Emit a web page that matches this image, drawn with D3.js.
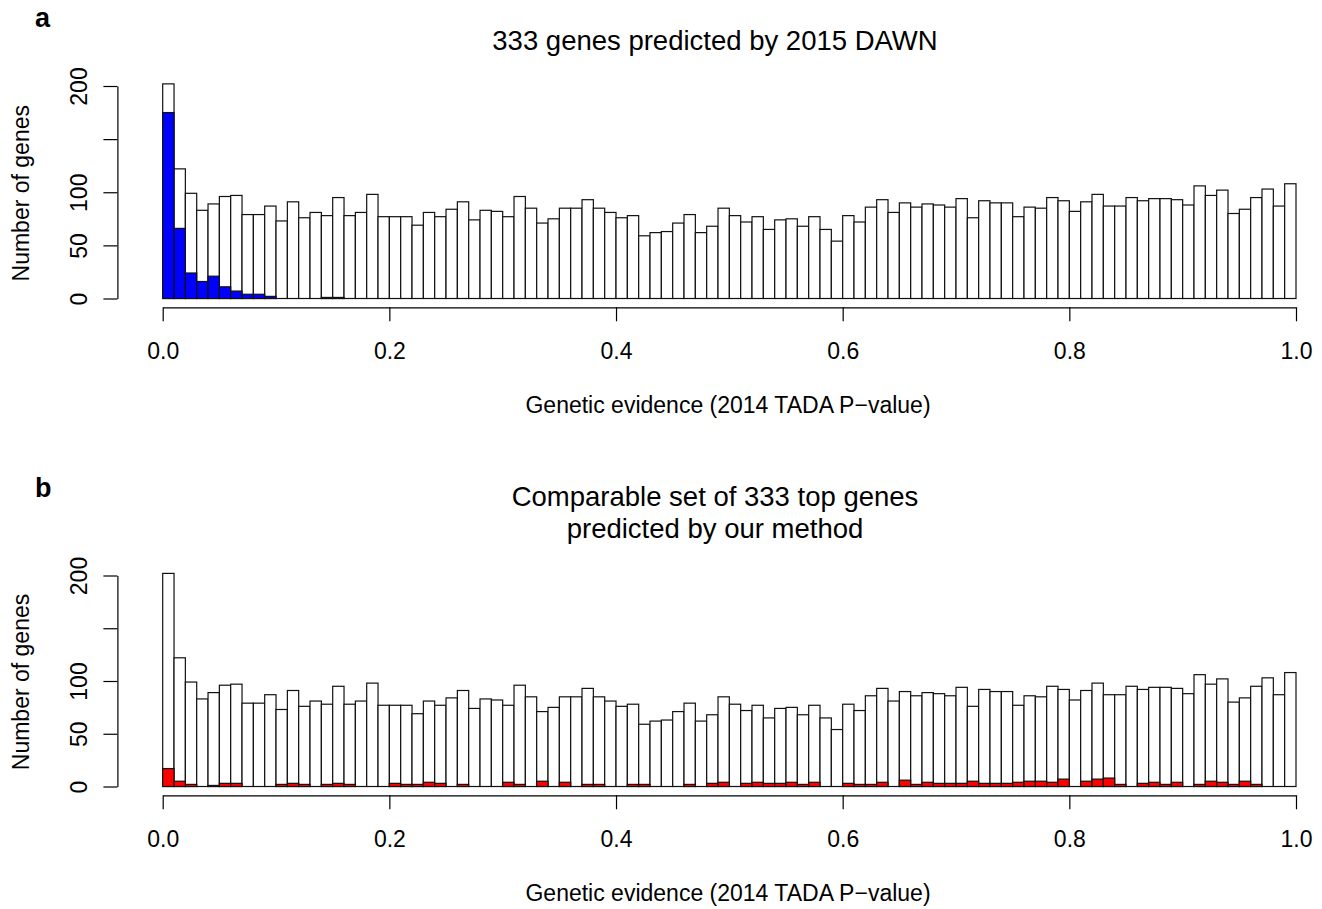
<!DOCTYPE html>
<html>
<head>
<meta charset="utf-8">
<script src="https://cdn.jsdelivr.net/npm/d3@7"></script>
<style>
  body { margin: 0; background: #fff; }
  text { font-family: "Liberation Sans", Arial, Helvetica, sans-serif; fill: #000; }
</style>
</head>
<body>
<script>
// histogram counts, 100 bins of width 0.01 on [0, 1]
var allGenes = [202, 122, 99, 83, 89, 96, 97, 79, 79, 87,
  73, 91, 76, 81, 78, 95, 78, 81, 98, 77,
  77, 77, 69, 81, 77, 84, 91, 74, 83, 82,
  77, 96, 85, 71, 75, 85, 85, 93, 85, 81,
  76, 78, 59, 62, 63, 71, 79, 62, 68, 85,
  78, 72, 77, 65, 74, 75, 68, 77, 65, 54,
  78, 72, 86, 93, 81, 90, 86, 89, 88, 86,
  94, 76, 92, 90, 90, 77, 86, 85, 95, 92,
  82, 91, 98, 87, 87, 95, 92, 94, 94, 93,
  88, 106, 97, 102, 80, 84, 95, 103, 87, 108];

var dawnGenes = [175, 66, 24, 16, 21, 11, 7, 4, 4, 2,
  0, 0, 0, 0, 1, 1, 0, 0, 0, 0,
  0, 0, 0, 0, 0, 0, 0, 0, 0, 0,
  0, 0, 0, 0, 0, 0, 0, 0, 0, 0,
  0, 0, 0, 0, 0, 0, 0, 0, 0, 0,
  0, 0, 0, 0, 0, 0, 0, 0, 0, 0,
  0, 0, 0, 0, 0, 0, 0, 0, 0, 0,
  0, 0, 0, 0, 0, 0, 0, 0, 0, 0,
  0, 0, 0, 0, 0, 0, 0, 0, 0, 0,
  0, 0, 0, 0, 0, 0, 0, 0, 0, 0];

var ourGenes = [17, 5, 2, 0, 1, 3, 3, 0, 0, 0,
  2, 3, 2, 0, 2, 3, 2, 0, 0, 0,
  3, 2, 2, 4, 3, 0, 2, 0, 0, 0,
  4, 2, 0, 5, 0, 4, 0, 2, 2, 0,
  0, 2, 2, 0, 0, 0, 2, 0, 3, 4,
  0, 3, 4, 3, 3, 4, 2, 4, 0, 0,
  3, 2, 2, 4, 0, 6, 2, 4, 3, 3,
  3, 5, 3, 3, 3, 4, 5, 5, 4, 7,
  0, 5, 7, 8, 2, 0, 3, 4, 2, 4,
  0, 2, 5, 4, 2, 5, 2, 0, 0, 0];

var binWidth = 0.01;
var xTicks = [0, 0.2, 0.4, 0.6, 0.8, 1.0];
var yTicks = [0, 50, 100, 150, 200];
var yTickLabels = ["0", "50", "100", "", "200"];

var panels = [
  { letter: "a", letterY: 26.5, title: ["333 genes predicted by 2015 DAWN"], sub: dawnGenes, color: "#0000ff", base: 298.5, top: 86 },
  { letter: "b", letterY: 496.5, title: ["Comparable set of 333 top genes", "predicted by our method"], sub: ourGenes, color: "#ff0000", base: 786.5, top: 575.5 }
];

var svg = d3.select("body").append("svg")
  .attr("width", 1322)
  .attr("height", 909);

var x = d3.scaleLinear().domain([0, 1]).range([162.7, 1296]);
var axisX = 117.4;

panels.forEach(function(p) {
  var y = d3.scaleLinear().domain([0, 200]).range([p.base, p.top]);
  var g = svg.append("g");

  //白色柱子（全部基因）
  g.selectAll("rect.all").data(allGenes).enter().append("rect")
    .attr("class", "all")
    .attr("x", function(d, i) { return x(i * binWidth); })
    .attr("y", function(d) { return y(d); })
    .attr("width", x(binWidth) - x(0))
    .attr("height", function(d) { return y(0) - y(d); })
    .attr("fill", "#fff")
    .attr("stroke", "#111")
    .attr("stroke-width", 1.2);

  //叠加的彩色柱子
  g.selectAll("rect.sub").data(p.sub).enter().append("rect")
    .attr("class", "sub")
    .attr("x", function(d, i) { return x(i * binWidth); })
    .attr("y", function(d) { return y(d); })
    .attr("width", x(binWidth) - x(0))
    .attr("height", function(d) { return y(0) - y(d); })
    .attr("fill", p.color)
    .attr("stroke", "#111")
    .attr("stroke-width", 1.2);

  //x轴
  var xa = g.append("g")
    .attr("transform", "translate(0," + (p.base + 8.8) + ")")
    .call(d3.axisBottom(x).tickValues(xTicks).tickFormat(d3.format(".1f"))
      .tickSize(14).tickSizeOuter(0).tickPadding(21));
  xa.selectAll("text").attr("font-size", 23);

  //y轴
  var ya = g.append("g")
    .attr("transform", "translate(" + axisX + ",0)")
    .call(d3.axisLeft(y).tickValues(yTicks)
      .tickFormat(function(d, i) { return yTickLabels[i]; })
      .tickSize(14).tickSizeOuter(0));
  ya.selectAll("text")
    .attr("font-size", 23)
    .attr("transform", "rotate(-90)")
    .attr("x", 0)
    .attr("y", -30)
    .attr("dy", 0)
    .attr("text-anchor", "middle");
  g.selectAll(".domain, .tick line").attr("stroke", "#000").attr("stroke-width", 1.2);

  //y轴标题
  g.append("text")
    .attr("transform", "translate(29," + ((p.base + p.top) / 2 + 1) + ") rotate(-90)")
    .attr("text-anchor", "middle")
    .attr("font-size", 23)
    .text("Number of genes");

  //x轴标题
  g.append("text")
    .attr("x", 728)
    .attr("y", p.base + 114.5)
    .attr("text-anchor", "middle")
    .attr("font-size", 23)
    .text("Genetic evidence (2014 TADA P\u2212value)");

  //图标题
  p.title.forEach(function(t, i) {
    g.append("text")
      .attr("x", 715)
      .attr("y", p.base - 249 - (p.title.length - 1 - i) * 32)
      .attr("text-anchor", "middle")
      .attr("font-size", 27.5)
      .text(t);
  });

  //面板字母
  g.append("text")
    .attr("x", 35)
    .attr("y", p.letterY)
    .attr("font-size", 27)
    .attr("font-weight", "bold")
    .text(p.letter);
});
</script>
</body>
</html>
